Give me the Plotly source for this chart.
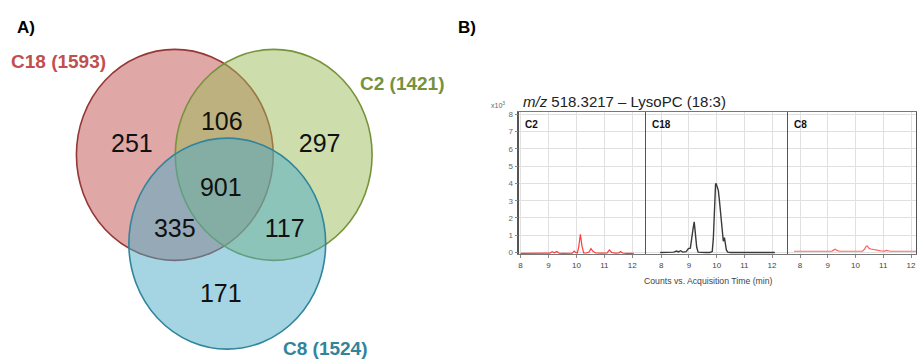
import plotly.graph_objects as go

# ---------------- Panel A: Venn diagram of feature counts ----------------
set_names = ["C18", "C2", "C8"]
set_totals = [1593, 1421, 1524]
set_colors = ["#c0504d", "#9bbb59", "#4bacc6"]
set_line_colors = ["#953735", "#77933c", "#31859c"]
set_label_colors = ["#c0504d", "#76923c", "#31849b"]

region_names = ["C18 only", "C18&C2", "C2 only", "all", "C18&C8", "C2&C8", "C8 only"]
region_counts = [251, 106, 297, 901, 335, 117, 171]

# ---------------- Panel B: extracted ion chromatograms ----------------
c2_time = [8.0, 8.3, 8.6, 8.9, 9.05, 9.13, 9.2, 9.3, 9.38, 9.5, 9.7, 9.85, 9.92, 9.97,
           10.03, 10.08, 10.14, 10.2, 10.26, 10.35, 10.45, 10.52, 10.6, 10.7, 10.9, 11.1,
           11.18, 11.26, 11.4, 11.52, 11.58, 11.65, 11.8, 12.0, 12.05]
c2_counts = [-0.05, -0.05, -0.06, -0.05, -0.04, 0.05, -0.02, 0.06, -0.04, -0.05, -0.05,
             -0.04, 0.08, 0.0, -0.03, 0.3, 1.05, 0.35, -0.02, -0.03, 0.02, 0.22, 0.05,
             -0.03, -0.04, -0.02, 0.15, 0.0, -0.04, -0.03, 0.05, -0.03, -0.05, -0.05, -0.05]

c18_time = [7.96, 8.2, 8.45, 8.55, 8.62, 8.7, 8.78, 8.9, 8.98, 9.05, 9.1, 9.15, 9.19, 9.23,
            9.28, 9.33, 9.45, 9.6, 9.75, 9.84, 9.88, 9.92, 9.96, 9.98, 10.02, 10.06, 10.1,
            10.14, 10.18, 10.21, 10.24, 10.28, 10.31, 10.35, 10.4, 10.5, 10.8, 11.2, 11.6, 12.1]
c18_counts = [0.0, 0.0, 0.02, 0.08, 0.03, 0.1, 0.02, 0.05, 0.22, 0.25, 0.7, 1.4, 1.77, 1.2,
              0.3, 0.02, 0.0, 0.0, 0.0, 0.05, 0.8, 2.8, 3.95, 4.0, 3.75, 3.6, 3.0, 2.2, 1.4,
              0.9, 0.65, 0.86, 0.55, 0.15, 0.02, 0.0, 0.0, 0.0, 0.0, 0.0]

c8_time = [7.78, 8.2, 8.6, 9.0, 9.15, 9.22, 9.27, 9.33, 9.42, 9.7, 10.0, 10.25, 10.33,
           10.38, 10.42, 10.48, 10.55, 10.65, 10.75, 10.82, 10.9, 11.05, 11.12, 11.18,
           11.25, 11.5, 11.8, 12.2]
c8_counts = [0.07, 0.07, 0.07, 0.07, 0.08, 0.15, 0.19, 0.12, 0.07, 0.07, 0.07, 0.08, 0.2,
             0.36, 0.38, 0.25, 0.2, 0.18, 0.17, 0.12, 0.09, 0.08, 0.12, 0.1, 0.07, 0.07,
             0.07, 0.07]

panel_labels = ["C2", "C18", "C8"]
y_ticks = [0, 1, 2, 3, 4, 5, 6, 7, 8]
x_ticks = [8, 9, 10, 11, 12]

W, H = 917, 359
FONT = "Liberation Sans, Arial, sans-serif"

fig = go.Figure()

# Venn layout (pixel-space axis): ellipse centres, radii, label anchors
venn_centers = [(174, 155), (273, 155), (226.5, 245)]
rx, ry = 98.5, 107
region_xy = [(131, 146), (221, 123), (319, 146), (220, 190), (174, 232), (284, 232), (220, 298)]
set_label_xy = [(58, 60), (402, 83), (325, 351)]

shapes = []
for (cx, cy), fc, lc in zip(venn_centers, set_colors, set_line_colors):
    r, g, b = int(fc[1:3], 16), int(fc[3:5], 16), int(fc[5:7], 16)
    shapes.append(dict(type="circle", xref="x", yref="y",
                       x0=cx - rx, x1=cx + rx, y0=cy - ry, y1=cy + ry,
                       fillcolor=f"rgba({r},{g},{b},0.5)",
                       line=dict(color=lc, width=1.6), layer="below"))

fig.add_trace(go.Scatter(
    x=[p[0] for p in region_xy], y=[p[1] for p in region_xy],
    text=[str(v) for v in region_counts], mode="text",
    textfont=dict(family=FONT, size=25, color="#111111"),
    hovertext=region_names, hoverinfo="text", showlegend=False,
    xaxis="x", yaxis="y"))

annotations = []
for name, total, (lx, ly), col in zip(set_names, set_totals, set_label_xy, set_label_colors):
    annotations.append(dict(x=lx, y=ly, xref="x", yref="y", showarrow=False,
                            text=f"<b>{name} ({total})</b>",
                            font=dict(family=FONT, size=19, color=col)))

annotations.append(dict(x=25, y=26, xref="x", yref="y", showarrow=False,
                        text="<b>A)</b>", font=dict(family=FONT, size=17, color="#000")))
annotations.append(dict(x=467, y=26, xref="x", yref="y", showarrow=False,
                        text="<b>B)</b>", font=dict(family=FONT, size=17, color="#000")))

# ---------------- chromatogram panels ----------------
x_domains = [(519 / W, 646 / W), (646 / W, 788 / W), (788 / W, 916 / W)]
x_ranges = [(7.96, 12.5), (7.46, 12.58), (7.57, 12.18)]
y_domain = ((H - 256) / H, (H - 112) / H)
y_range = (-0.114, 8.114)

traces = [(c2_time, c2_counts, "#ff3b3b", 1.2),
          (c18_time, c18_counts, "#3a3a3a", 1.4),
          (c8_time, c8_counts, "#ff6666", 1.2)]

layout_axes = {}
for i in range(3):
    xa = f"xaxis{i + 2}"
    ya = f"yaxis{i + 2}"
    t, c, col, lw = traces[i]
    fig.add_trace(go.Scatter(x=t, y=c, mode="lines", line=dict(color=col, width=lw),
                             showlegend=False, xaxis=f"x{i + 2}", yaxis=f"y{i + 2}",
                             name=panel_labels[i]))
    layout_axes[xa] = dict(domain=list(x_domains[i]), range=list(x_ranges[i]),
                           anchor=f"y{i + 2}", tickvals=x_ticks, ticks="outside",
                           ticklen=3, tickcolor="#888", showgrid=True,
                           gridcolor="#e0e0e0", gridwidth=1, zeroline=False,
                           showline=True, linecolor="#777", linewidth=1, mirror=True,
                           tickfont=dict(family=FONT, size=8, color="#444"),
                           fixedrange=True)
    layout_axes[ya] = dict(domain=list(y_domain), range=list(y_range),
                           anchor=f"x{i + 2}", tickvals=y_ticks, showgrid=True,
                           gridcolor="#e0e0e0", gridwidth=1, zeroline=False,
                           showline=True, linecolor="#555",
                           linewidth=1.6 if i == 0 else 1,
                           mirror=(i == 2),
                           ticks="outside" if i == 0 else "", ticklen=3, tickcolor="#888",
                           showticklabels=(i == 0),
                           tickfont=dict(family=FONT, size=8, color="#666"),
                           fixedrange=True)
    annotations.append(dict(x=x_ranges[i][0], y=7.4, xref=f"x{i + 2}", yref=f"y{i + 2}",
                            xanchor="left", yanchor="middle", xshift=4, showarrow=False,
                            text=f"<b>{panel_labels[i]}</b>",
                            font=dict(family=FONT, size=10, color="#111")))

annotations.append(dict(x=521, y=101, xref="x", yref="y", xanchor="left", showarrow=False,
                        text="<i>m/z</i> 518.3217 – LysoPC (18:3)",
                        font=dict(family=FONT, size=15, color="#222")))
annotations.append(dict(x=498, y=104, xref="x", yref="y", showarrow=False,
                        text="x10<sup>3</sup>",
                        font=dict(family=FONT, size=7, color="#666")))
annotations.append(dict(x=708, y=283, xref="x", yref="y", showarrow=False,
                        text="Counts vs. Acquisition Time (min)",
                        font=dict(family=FONT, size=8.7, color="#444")))

fig.update_layout(
    width=W, height=H,
    margin=dict(l=0, r=0, t=0, b=0),
    paper_bgcolor="white", plot_bgcolor="rgba(0,0,0,0)",
    xaxis=dict(domain=[0, 1], range=[0, W], visible=False, fixedrange=True),
    yaxis=dict(domain=[0, 1], range=[H, 0], visible=False, fixedrange=True),
    shapes=shapes, annotations=annotations,
    font=dict(family=FONT),
    **layout_axes,
)

fig.write_html("out.html")
